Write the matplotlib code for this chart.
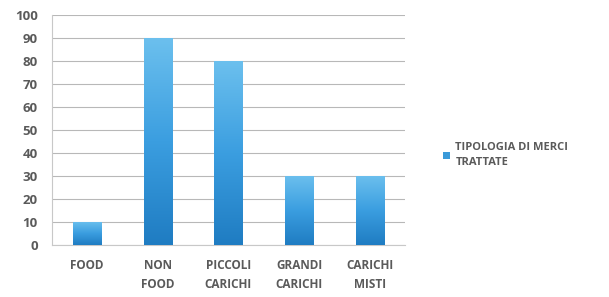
import numpy as np
import matplotlib.pyplot as plt
from matplotlib.colors import LinearSegmentedColormap

categories = ["FOOD", "NON\nFOOD", "PICCOLI\nCARICHI", "GRANDI\nCARICHI", "CARICHI\nMISTI"]
values = [10, 90, 80, 30, 30]
series_name = "TIPOLOGIA DI MERCI\nTRATTATE"

plt.rcParams['font.family'] = ['Open Sans', 'DejaVu Sans']
txt = '#5a5a5a'

fig = plt.figure(figsize=(6.09, 2.97), dpi=100)
ax = fig.add_axes([0.085, 0.175, 0.58, 0.775])

x = np.arange(len(values))
bars = ax.bar(x, values, width=0.4, color='#3a9ad9', zorder=2)

# gradient fill inside each bar
cmap = LinearSegmentedColormap.from_list('g', ['#1f7cc2', '#3b9ee0', '#6cc0ee'])
grad = np.linspace(0, 1, 256).reshape(-1, 1)
for b in bars:
    bx, by, bw, bh = b.get_x(), b.get_y(), b.get_width(), b.get_height()
    im = ax.imshow(grad, cmap=cmap, aspect='auto', origin='lower',
                   extent=[bx, bx + bw, by, by + bh], zorder=3)
    im.set_clip_path(b)
ax.set_xlim(-0.5, len(values) - 0.5)
ax.set_ylim(0, 100)
ax.set_yticks(range(0, 101, 10))
ax.set_xticks(x)
ax.set_xticklabels(categories, fontsize=8.5, color=txt, fontweight='bold', linespacing=1.6)
ax.tick_params(axis='y', labelsize=9.5, colors=txt, length=0, pad=10)
ax.tick_params(axis='x', length=0, pad=10)
for lbl in ax.get_yticklabels():
    lbl.set_fontweight('bold')
ax.grid(axis='y', color='#b8b8b8', linewidth=0.8, zorder=0)
for s in ['top', 'right']:
    ax.spines[s].set_visible(False)
ax.spines['left'].set_color('#c8c8c8')
ax.spines['bottom'].set_color('#c8c8c8')

leg = ax.legend([bars[0]], [series_name], loc='center left', bbox_to_anchor=(1.08, 0.39),
                frameon=False, fontsize=8, labelcolor=txt, handlelength=0.6, handleheight=0.6,
                handletextpad=0.5)
for t in leg.get_texts():
    t.set_fontweight('bold')
    t.set_linespacing(1.5)

fig.savefig('out.png', dpi=100)
